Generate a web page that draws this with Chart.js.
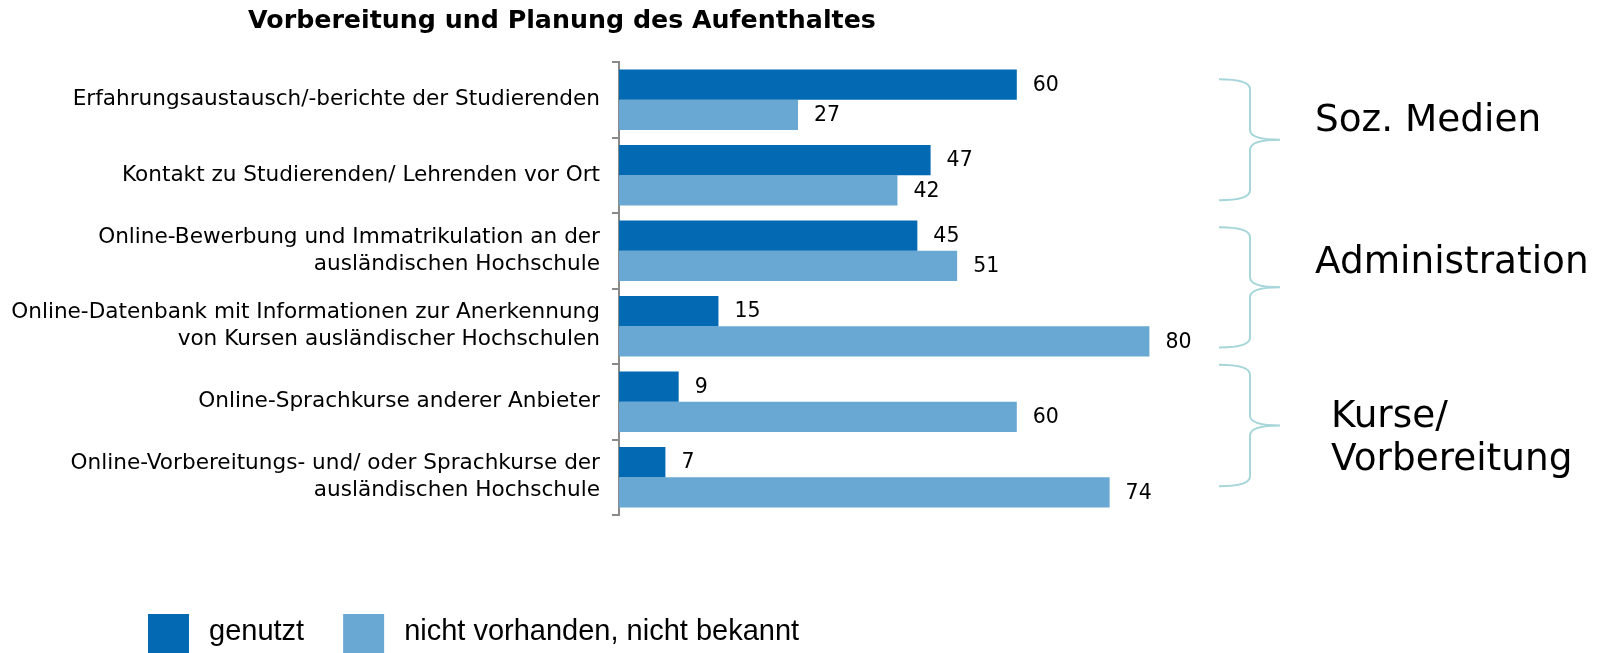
<!DOCTYPE html>
<html>
<head>
<meta charset="utf-8">
<script src="https://cdn.jsdelivr.net/npm/chart.js@4"></script>
<style>
  html, body { margin: 0; padding: 0; background: #fff; }
  #wrap { position: relative; width: 1602px; height: 653px; overflow: hidden; }
</style>
</head>
<body>
<div id="wrap"><canvas id="chart" width="1602" height="653"></canvas></div>
<script>
// Data
const chartTitle = "Vorbereitung und Planung des Aufenthaltes";
const categories = [
  "Erfahrungsaustausch/-berichte der Studierenden",
  "Kontakt zu Studierenden/ Lehrenden vor Ort",
  ["Online-Bewerbung und Immatrikulation an der", "ausländischen Hochschule"],
  ["Online-Datenbank mit Informationen zur Anerkennung", "von Kursen ausländischer Hochschulen"],
  "Online-Sprachkurse anderer Anbieter",
  ["Online-Vorbereitungs- und/ oder Sprachkurse der", "ausländischen Hochschule"],
];
const seriesNames = ["genutzt", "nicht vorhanden, nicht bekannt"];
const genutzt = [60, 47, 45, 15, 9, 7];
const nichtVorhanden = [27, 42, 51, 80, 60, 74];
const groupNames = [["Soz. Medien"], ["Administration"], ["Kurse/", "Vorbereitung"]];

// Brace layout (in category units on the y scale)
const groupLayout = [
  { from: -0.27, to: 1.33, text: 0.41, dx: 33 },
  { from: 1.69, to: 3.28, text: 2.30, dx: 33 },
  { from: 3.51, to: 5.12, text: 4.33, dx: 49 },
];

const DARK = "#0369b3";
const LIGHT = "#68a8d3";
const AXIS = "#8a8a8a";
const BRACE = "#a6d6da";

// Value labels right of each bar
const valueLabels = {
  id: "valueLabels",
  afterDatasetsDraw(c) {
    const ctx = c.ctx;
    ctx.save();
    ctx.font = '20.5px "DejaVu Sans"';
    ctx.fillStyle = "#000";
    ctx.textBaseline = "middle";
    ctx.textAlign = "left";
    c.data.datasets.forEach((ds, i) => {
      c.getDatasetMeta(i).data.forEach((bar, j) => {
        ctx.fillText(String(ds.data[j]), bar.x + 16, bar.y + 1);
      });
    });
    ctx.restore();
  },
};

// Curly braces + group names
function drawBrace(ctx, x0, xv, xt, top, mid, bottom) {
  const r = 10;
  ctx.beginPath();
  ctx.moveTo(x0, top);
  ctx.quadraticCurveTo(xv, top, xv, top + r);
  ctx.lineTo(xv, mid - r);
  ctx.quadraticCurveTo(xv, mid, xt, mid);
  ctx.moveTo(xt, mid);
  ctx.quadraticCurveTo(xv, mid, xv, mid + r);
  ctx.lineTo(xv, bottom - r);
  ctx.quadraticCurveTo(xv, bottom, x0, bottom);
  ctx.stroke();
}

const groupBraces = {
  id: "groupBraces",
  afterDraw(c) {
    const ctx = c.ctx;
    const y = c.scales.y;
    const right = c.chartArea.right;
    ctx.save();
    ctx.strokeStyle = BRACE;
    ctx.lineWidth = 2;
    groupLayout.forEach((g, i) => {
      const top = y.getPixelForValue(g.from);
      const bottom = y.getPixelForValue(g.to);
      const mid = (top + bottom) / 2;
      drawBrace(ctx, right - 63, right - 32, right - 2, top, mid, bottom);

      ctx.font = '37.4px "DejaVu Sans"';
      ctx.fillStyle = "#000";
      ctx.textAlign = "left";
      ctx.textBaseline = "alphabetic";
      const base = y.getPixelForValue(g.text);
      groupNames[i].forEach((line, k) => {
        ctx.fillText(line, right + g.dx, base + k * 43);
      });
    });
    ctx.restore();
  },
};

// Title and legend
const titleLegend = {
  id: "titleLegend",
  afterDraw(c) {
    const ctx = c.ctx;
    ctx.save();
    ctx.fillStyle = "#000";
    ctx.font = 'bold 25.3px "DejaVu Sans"';
    ctx.textAlign = "center";
    ctx.textBaseline = "alphabetic";
    ctx.fillText(chartTitle, 562, 28);

    ctx.font = '29px "Liberation Sans"';
    ctx.textAlign = "left";
    let x = 148;
    c.data.datasets.forEach((ds) => {
      ctx.fillStyle = ds.backgroundColor;
      ctx.fillRect(x, 614, 41, 41);
      ctx.fillStyle = "#000";
      ctx.fillText(ds.label, x + 61, 640);
      x += 61 + ctx.measureText(ds.label).width + 39;
    });
    ctx.restore();
  },
};

const ctx = document.getElementById("chart");
const chart = new Chart(ctx, {
  type: "bar",
  data: {
    labels: categories,
    datasets: [
      {
        label: seriesNames[0],
        data: genutzt,
        backgroundColor: DARK,
        categoryPercentage: 0.8,
        barPercentage: 1,
      },
      {
        label: seriesNames[1],
        data: nichtVorhanden,
        backgroundColor: LIGHT,
        categoryPercentage: 0.8,
        barPercentage: 1,
      },
    ],
  },
  options: {
    indexAxis: "y",
    responsive: false,
    animation: false,
    layout: { padding: { top: 62, bottom: 138, left: 0, right: 320 } },
    plugins: {
      legend: { display: false },
      tooltip: { enabled: false },
      title: { display: false },
    },
    scales: {
      x: { display: false, min: 0, max: 100 },
      y: {
        afterFit: (scale) => {
          scale.width = 619;
        },
        border: { display: true, color: AXIS, width: 2 },
        grid: {
          offset: true,
          drawOnChartArea: false,
          drawTicks: true,
          tickLength: 7,
          color: AXIS,
          lineWidth: 2,
        },
        ticks: {
          autoSkip: false,
          padding: 12,
          color: "#000",
          font: { family: "DejaVu Sans", size: 21.6, lineHeight: 1.24 },
        },
      },
    },
  },
  plugins: [valueLabels, groupBraces, titleLegend],
});
</script>
</body>
</html>
